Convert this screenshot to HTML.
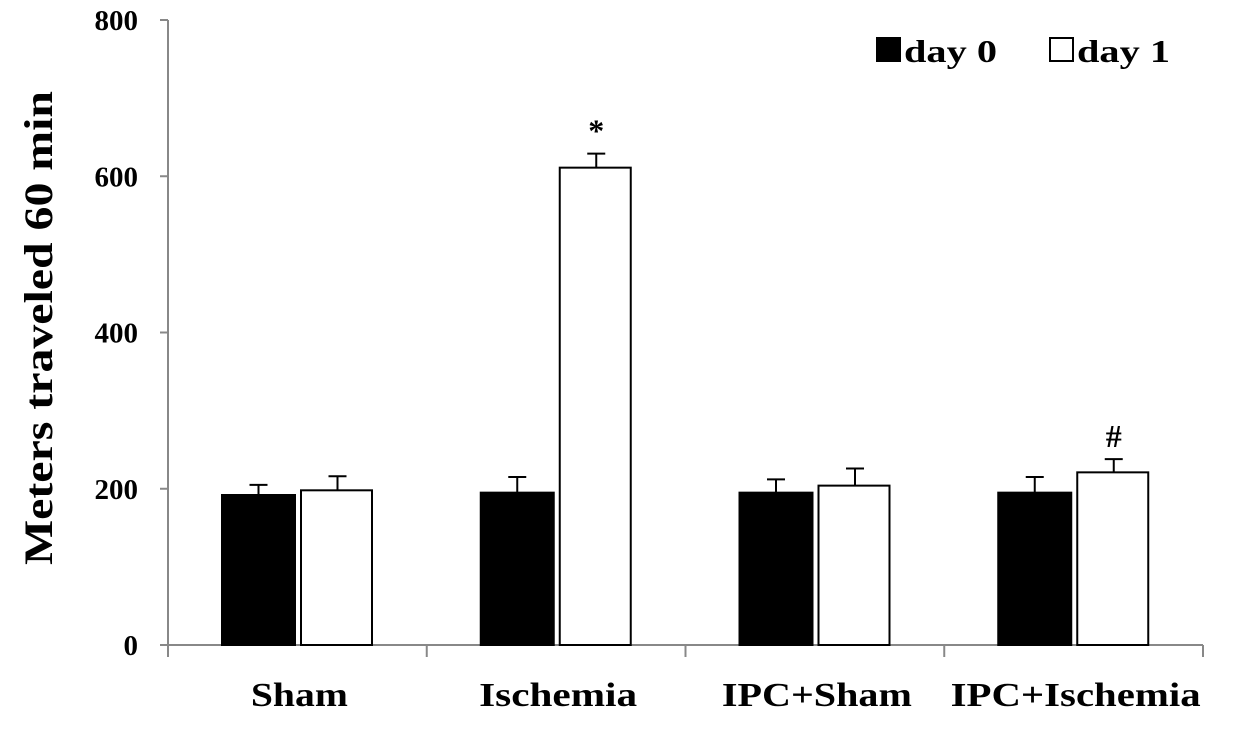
<!DOCTYPE html>
<html><head><meta charset="utf-8"><style>
body{margin:0;background:#fff;}
svg text{font-family:"Liberation Serif",serif;font-weight:bold;fill:#000;}
</style></head><body>
<svg id="chart" width="1240" height="742" xmlns="http://www.w3.org/2000/svg">
<g id="axes"></g><g id="bars"></g>
<text transform="translate(52,328) rotate(-90)" text-anchor="middle" font-size="40" textLength="474" lengthAdjust="spacingAndGlyphs">Meters traveled 60 min</text>
<g>
<rect x="876" y="37" width="25" height="25" fill="#000"/>
<text x="904" y="62" font-size="32" textLength="93" lengthAdjust="spacingAndGlyphs">day 0</text>
<rect x="1050" y="38" width="23" height="23" fill="#fff" stroke="#000" stroke-width="2"/>
<text x="1077" y="62" font-size="32" textLength="93" lengthAdjust="spacingAndGlyphs">day 1</text>
</g>
</svg>
<script>
const categories=["Sham","Ischemia","IPC+Sham","IPC+Ischemia"];
const day0=[192,195,195,195];
const day1=[198,611,204,221];
const err0=[13,20,17,20];
const err1=[18,18,22,17];
const marks=["","*","","#"];
const yTicks=[0,200,400,600,800];
const labelW=[97,158,190,250];
const NS="http://www.w3.org/2000/svg";
const x0=168,gw=258.75,y0=645,yTop=20;
function y(v){return y0-(v/800)*(y0-yTop);}
function mk(t,a,p){const e=document.createElementNS(NS,t);for(const k in a)e.setAttribute(k,a[k]);p.appendChild(e);return e;}
const ax=document.getElementById('axes'),bg=document.getElementById('bars');
const yl=mk('line',{x1:x0,y1:y(800),x2:x0,y2:y0,stroke:'#888','stroke-width':2},ax);

const xl=mk('line',{x1:x0,y1:y0,x2:x0+4*gw,y2:y0,stroke:'#888','stroke-width':2},ax);

yTicks.forEach(v=>{
 mk('line',{x1:x0-8,y1:y(v),x2:x0,y2:y(v),stroke:'#888','stroke-width':2},ax);
 const t=mk('text',{x:x0-30,y:y(v)+10,'text-anchor':'end','font-size':29},ax);t.textContent=v;
 
 
});
for(let i=0;i<=4;i++)mk('line',{x1:x0+i*gw,y1:y0,x2:x0+i*gw,y2:y0+12,stroke:'#888','stroke-width':2},ax);
categories.forEach((c,i)=>{
 const gx=x0+i*gw;
 const t=mk('text',{x:gx+gw/2+2,y:706,'text-anchor':'middle','font-size':34,textLength:labelW[i],lengthAdjust:'spacingAndGlyphs'},ax);t.textContent=c;
 
 
 [[day0[i],err0[i],gx+54,'#000'],[day1[i],err1[i],gx+133,'#fff']].forEach(([v,e,bx,f],j)=>{
  const cx=bx+36.5;
  mk('line',{x1:cx,y1:y(v),x2:cx,y2:y(v+e),stroke:'#000','stroke-width':2},bg);
  mk('line',{x1:cx-9,y1:y(v+e),x2:cx+9,y2:y(v+e),stroke:'#000','stroke-width':2},bg);
  const r=mk('rect',{x:bx,y:y(v),width:j?71:73,height:y0-y(v),fill:f,stroke:'#000','stroke-width':2},bg);
  
  
  if(j&&marks[i]){const m=mk('text',{x:cx,y:y(v+e)-12,'text-anchor':'middle','font-size':32},bg);m.textContent=marks[i];
   
   }
 });
});
</script>
</body></html>
